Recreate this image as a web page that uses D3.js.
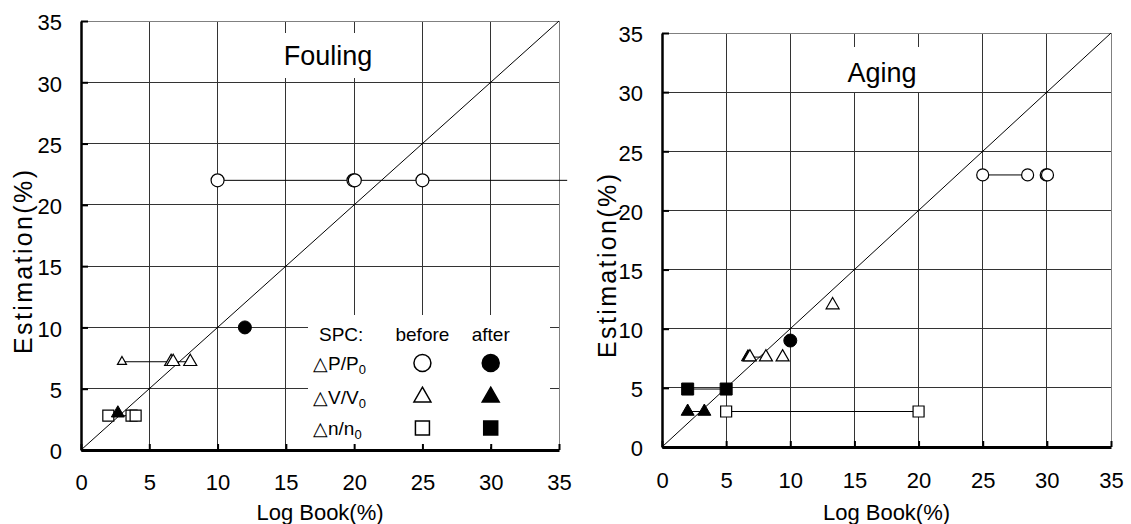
<!DOCTYPE html>
<html><head><meta charset="utf-8">
<script src="https://cdn.jsdelivr.net/npm/d3@7"></script>
<style>
body{margin:0;background:#fff;}
svg text{font-family:"Liberation Sans",Arial,sans-serif;fill:#000;}
</style></head><body>
<svg id="chart" width="1131" height="524"></svg>
<script>
// axis ticks shared by both panels
const tickValues = [0, 5, 10, 15, 20, 25, 30, 35];

// Fouling panel: [logBook, estimation]
const foulPBefore = [[10, 22], [19.95, 22], [20.05, 22], [25, 22]];
const foulPAfter = [[12, 10]];
const foulVBeforeSmall = [[3, 7.2]];
const foulVBefore = [[6.6, 7.2], [6.75, 7.2], [8, 7.2]];
const foulVAfter = [[2.7, 3.0]];
const foulNBefore = [[2, 2.8], [3.7, 2.8], [4, 2.8]];
// connecting ranges: [fromX, toX, y]
const foulRanges = [[10, 35.6, 22], [3, 8, 7.2], [2, 4, 2.8]];

// Aging panel
const agePBefore = [[25, 23], [28.5, 23], [29.95, 23], [30.05, 23]];
const agePAfter = [[10, 9]];
const ageVAfterBelow = [[6.7, 7.6]];
const ageVBefore = [[13.3, 12], [6.85, 7.6], [8.1, 7.6], [9.4, 7.6]];
const ageVAfter = [[2, 3], [3.3, 3]];
const ageNBefore = [[5, 3], [20, 3]];
const ageNAfter = [[2, 4.9], [5, 4.9]];
const ageRanges = [[25, 28.5, 23], [6.8, 8.1, 7.6], [2, 3.3, 3], [2, 5, 4.9], [5, 20, 3]];

// legend rows
const legendRows = [
  {sym: "P", shape: "circle"},
  {sym: "V", shape: "triangle"},
  {sym: "n", shape: "square"}
];

const tickFont = "'Liberation Sans Narrow', 'Arial Narrow', 'Liberation Sans', sans-serif";
const svg = d3.select("#chart");

function shapeType(s) {
  return s === "circle" ? d3.symbolCircle : s === "triangle" ? d3.symbolTriangle : d3.symbolSquare;
}
// marker area from a nominal size in px (diameter / side)
function shapeArea(s, px) {
  if (s === "circle") return Math.PI * (px / 2) * (px / 2);
  if (s === "triangle") return Math.sqrt(3) / 4 * px * px;
  return px * px;
}

function panel(cfg) {
  const x = d3.scaleLinear().domain([0, 35]).range([cfg.left, cfg.right]);
  const y = d3.scaleLinear().domain([0, 35]).range([cfg.bottom, cfg.top]);
  const g = svg.append("g");

  // grid
  const grid = g.append("g");
  grid.selectAll(".vg").data(tickValues.slice(1)).join("line")
    .attr("x1", d => x(d)).attr("x2", d => x(d))
    .attr("y1", y(0)).attr("y2", y(35))
    .attr("stroke", d => d === 35 ? "#808080" : "#333").attr("stroke-width", 1)
    .attr("shape-rendering", "crispEdges");
  grid.selectAll(".hg").data(tickValues.slice(1)).join("line")
    .attr("y1", d => y(d)).attr("y2", d => y(d))
    .attr("x1", x(0)).attr("x2", x(35))
    .attr("stroke", d => d === 35 ? "#808080" : "#333").attr("stroke-width", 1)
    .attr("shape-rendering", "crispEdges");

  // title with white backing
  g.append("rect").attr("x", cfg.titleBox[0]).attr("y", cfg.titleBox[1])
    .attr("width", cfg.titleBox[2]).attr("height", cfg.titleBox[3]).attr("fill", "#fff");
  g.append("text").attr("x", cfg.titleX).attr("y", cfg.titleY)
    .attr("text-anchor", "middle").attr("font-size", 27).text(cfg.title);

  if (cfg.legend) cfg.legend(g, x, y);

  // y = x reference line
  g.append("line").attr("x1", x(0)).attr("y1", y(0)).attr("x2", x(35)).attr("y2", y(35))
    .attr("stroke", "#000").attr("stroke-width", 1);

  // ranges
  g.selectAll(".rg").data(cfg.ranges).join("line")
    .attr("x1", d => x(d[0])).attr("x2", d => x(d[1]))
    .attr("y1", d => y(d[2])).attr("y2", d => y(d[2]))
    .attr("stroke", "#000").attr("stroke-width", 1);

  // markers, drawn layer by layer
  cfg.layers.forEach(L => {
    const sym = d3.symbol().type(shapeType(L.shape)).size(shapeArea(L.shape, L.px));
    g.selectAll(null).data(L.data).join("path")
      .attr("transform", d => `translate(${x(d[0])},${y(d[1])})`)
      .attr("d", sym)
      .attr("fill", L.filled ? "#000" : "#fff")
      .attr("stroke", "#000").attr("stroke-width", L.filled ? 1 : 1.2);
  });

  // axes
  const ax = g.append("g").attr("transform", `translate(0,${cfg.bottom})`)
    .call(d3.axisBottom(x).tickValues(tickValues).tickSize(-6).tickSizeOuter(0).tickPadding(cfg.xPad));
  ax.select(".domain").attr("stroke", "#000").attr("stroke-width", 3);
  ax.selectAll(".tick line").attr("stroke", "#000").attr("stroke-width", 2);
  ax.selectAll("text").attr("font-size", 22).attr("font-family", tickFont);

  const ay = g.append("g").attr("transform", `translate(${cfg.left},0)`)
    .call(d3.axisLeft(y).tickValues(tickValues).tickSize(-7).tickSizeOuter(0).tickPadding(19));
  ay.select(".domain").attr("stroke", "#000").attr("stroke-width", 2.5);
  ay.selectAll(".tick line").attr("stroke", "#000").attr("stroke-width", 2);
  ay.selectAll("text").attr("font-size", 22).attr("font-family", tickFont).attr("dy", "0.4em");

  // axis titles
  g.append("text").attr("x", (cfg.left + cfg.right) / 2).attr("y", 520)
    .attr("text-anchor", "middle").attr("font-size", 22).text("Log Book(%)");
  g.append("text").attr("transform", `translate(${cfg.yTitleX},${cfg.yTitleY}) rotate(-90)`)
    .attr("text-anchor", "middle").attr("font-size", 25)
    .attr("textLength", 184).attr("lengthAdjust", "spacing").text("Estimation(%)");
}

function foulingLegend(g, x, y) {
  g.append("rect").attr("x", 308).attr("y", 315).attr("width", 242).attr("height", 132).attr("fill", "#fff");
  const fs = 19;
  g.append("text").attr("x", 319).attr("y", 341).attr("font-size", fs).text("SPC:");
  g.append("text").attr("x", x(25)).attr("y", 341).attr("text-anchor", "middle").attr("font-size", fs).text("before");
  g.append("text").attr("x", x(30)).attr("y", 341).attr("text-anchor", "middle").attr("font-size", fs).text("after");
  const rowY = [363, 397, 428];
  legendRows.forEach((r, i) => {
    const t = g.append("text").attr("x", 313).attr("y", rowY[i] + 7).attr("font-size", fs);
    t.append("tspan").text("△" + r.sym + "/" + r.sym);
    t.append("tspan").attr("font-size", 13).attr("dy", 4).text("0");
    [false, true].forEach((filled, j) => {
      const px = r.shape === "circle" ? 17 : r.shape === "triangle" ? 17 : 14;
      g.append("path")
        .attr("transform", `translate(${x(j ? 30 : 25)},${rowY[i]})`)
        .attr("d", d3.symbol().type(shapeType(r.shape)).size(shapeArea(r.shape, px))())
        .attr("fill", filled ? "#000" : "#fff").attr("stroke", "#000").attr("stroke-width", 1.5);
    });
  });
}

panel({
  left: 81, right: 559, top: 21, bottom: 450,
  title: "Fouling", titleX: 328, titleY: 65, titleBox: [272, 33, 108, 45],
  xPad: 24, yTitleX: 32, yTitleY: 262,
  ranges: foulRanges,
  legend: foulingLegend,
  layers: [
    {data: foulPBefore, shape: "circle", px: 13, filled: false},
    {data: foulVBeforeSmall, shape: "triangle", px: 9, filled: false},
    {data: foulVBefore, shape: "triangle", px: 13, filled: false},
    {data: foulNBefore, shape: "square", px: 11, filled: false},
    {data: foulPAfter, shape: "circle", px: 13, filled: true},
    {data: foulVAfter, shape: "triangle", px: 13, filled: true}
  ]
});

panel({
  left: 662, right: 1111, top: 33, bottom: 447,
  title: "Aging", titleX: 882, titleY: 82, titleBox: [842, 47, 101, 45],
  xPad: 25, yTitleX: 616, yTitleY: 266,
  ranges: ageRanges,
  layers: [
    {data: agePBefore, shape: "circle", px: 12, filled: false},
    {data: ageVAfterBelow, shape: "triangle", px: 13, filled: true},
    {data: ageVBefore, shape: "triangle", px: 13, filled: false},
    {data: ageNBefore, shape: "square", px: 11, filled: false},
    {data: agePAfter, shape: "circle", px: 13, filled: true},
    {data: ageVAfter, shape: "triangle", px: 13, filled: true},
    {data: ageNAfter, shape: "square", px: 12, filled: true}
  ]
});
</script>
</body></html>
